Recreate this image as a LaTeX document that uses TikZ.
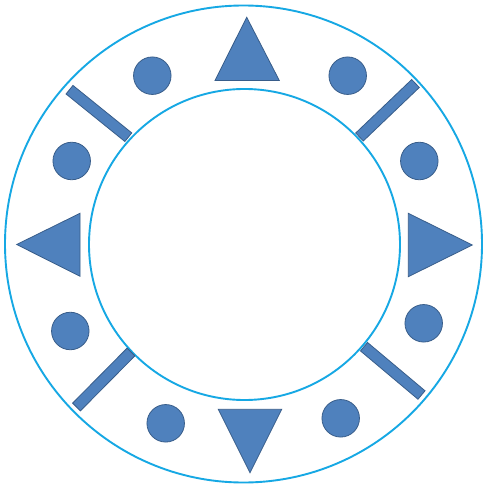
\documentclass[tikz,border=0pt]{standalone}
\usetikzlibrary{calc}
\definecolor{shapefill}{RGB}{79,129,189}
\definecolor{shapeedge}{RGB}{56,93,138}
\definecolor{ringcol}{RGB}{22,168,228}
\begin{document}
\begin{tikzpicture}[x=1pt,y=-1pt,
  ring/.style={draw=ringcol,line width=1.9pt},
  dot/.style={circle,draw=shapeedge,fill=shapefill,line width=0.8pt,minimum size=37.5pt,inner sep=0pt},
  tri/.style={draw=shapeedge,fill=shapefill,line width=0.8pt,line join=miter},
  barshape/.style={draw=shapeedge,fill=shapefill,line width=0.8pt}]
\useasboundingbox (0,0) rectangle (483,486);
\fill[white] (0,0) rectangle (483,486);
% rings
\node[ring,circle,minimum size=477pt,inner sep=0pt] (outer) at (243.5,244) {};
\node[ring,circle,minimum size=311pt,inner sep=0pt] (inner) at (244.5,244.5) {};
% triangles
\coordinate (tTop) at (246.7,17.3);
\coordinate (tTopL) at (215,80.5);
\coordinate (tTopR) at (279.3,80.5);
\draw[tri] (tTop) -- (tTopR) -- (tTopL) -- cycle;
\coordinate (tBot) at (250,472.7);
\coordinate (tBotL) at (218.3,409.3);
\coordinate (tBotR) at (281.7,409.3);
\draw[tri] (tBot) -- (tBotL) -- (tBotR) -- cycle;
\coordinate (tLeft) at (16.7,244.5);
\coordinate (tLeftT) at (80,213.3);
\coordinate (tLeftB) at (80,276.3);
\draw[tri] (tLeft) -- (tLeftT) -- (tLeftB) -- cycle;
\coordinate (tRight) at (472.3,245);
\coordinate (tRightT) at (408.3,213.3);
\coordinate (tRightB) at (408.3,276.7);
\draw[tri] (tRight) -- (tRightT) -- (tRightB) -- cycle;
% dots
\node[dot] (d1) at (152.3,75.7) {};
\node[dot] (d2) at (347.7,75.7) {};
\node[dot] (d3) at (71.7,161) {};
\node[dot] (d4) at (419.3,161) {};
\node[dot] (d5) at (70.3,331) {};
\node[dot] (d6) at (423.7,323.3) {};
\node[dot] (d7) at (165.7,423.3) {};
\node[dot] (d8) at (340.7,418.3) {};
% bars
\coordinate (b1a) at (69.5,89.7);  \coordinate (b1b) at (128.3,137.2);
\coordinate (b2a) at (415.5,83.5); \coordinate (b2b) at (359.5,137);
\coordinate (b3a) at (131,352);    \coordinate (b3b) at (76.5,407);
\coordinate (b4a) at (364,346.7);  \coordinate (b4b) at (421.5,395);
\foreach \a/\b in {b1a/b1b,b2a/b2b,b3a/b3b,b4a/b4b}{
  \draw[barshape] ($(\a)!5.5pt!90:(\b)$) -- ($(\b)!5.5pt!-90:(\a)$)
    -- ($(\b)!5.5pt!90:(\a)$) -- ($(\a)!5.5pt!-90:(\b)$) -- cycle;
}
\end{tikzpicture}
\end{document}
